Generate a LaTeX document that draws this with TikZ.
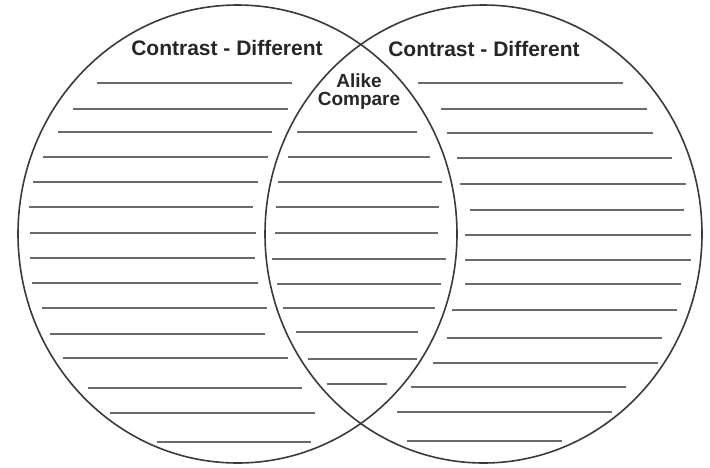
\documentclass[tikz,border=0pt]{standalone}
\usepackage{fontspec}
\setmainfont{Liberation Sans}
\definecolor{ringgray}{HTML}{3A3A3A}
\definecolor{linegray}{HTML}{6A6A6A}
\usepackage{tikz}
\usetikzlibrary{positioning}
\tikzset{
	ring/.style={draw=ringgray, line width=1.6pt}
}
\tikzset{
	writeline/.style={draw=linegray, line width=1.8pt}
}
\tikzset{
	headtext/.style={font=\fontsize{21}{22}\selectfont\bfseries\color{black!85}, inner sep=0pt}
}

\begin{document}
\begin{tikzpicture}[x=1pt, y=-1pt]

			\useasboundingbox (0,0) rectangle (710,467);

			\begin{scope}
				\coordinate (cL) at (237.5,234);
				\coordinate (cR) at (483.5,234);

				\draw[ring] (cL) ellipse [x radius=219.5, y radius=229];
				\draw[ring] (cR) ellipse [x radius=218.5, y radius=229];
			\end{scope}

			\node[headtext] (titleL) at (227,48) {Contrast - Different};
			\node[headtext] (titleR) at (484,49) {Contrast - Different};
			\node[headtext, font=\fontsize{19}{18}\selectfont\bfseries\color{black!85}, align=center] (alike) at (359,92) {Alike\\Compare};

			% left part
			\begin{scope}
				\draw[writeline] (97,83) -- (292,83);
				\draw[writeline] (73,109) -- (288,109);
				\draw[writeline] (58,132) -- (272,132);
				\draw[writeline] (43,157) -- (268,157);
				\draw[writeline] (33,182) -- (258,182);
				\draw[writeline] (29,207) -- (253,207);
				\draw[writeline] (30,233) -- (256,233);
				\draw[writeline] (30,258) -- (255,258);
				\draw[writeline] (32,283) -- (258,283);
				\draw[writeline] (42,308) -- (267,308);
				\draw[writeline] (50,334) -- (265,334);
				\draw[writeline] (63,358) -- (288,358);
				\draw[writeline] (88,388) -- (302,388);
				\draw[writeline] (110,413) -- (315,413);
				\draw[writeline] (157,442) -- (311,442);
			\end{scope}

			% middle part
			\begin{scope}
				\draw[writeline] (297,132) -- (417,132);
				\draw[writeline] (288,157) -- (430,157);
				\draw[writeline] (278,182) -- (442,182);
				\draw[writeline] (276,207) -- (439,207);
				\draw[writeline] (275,233) -- (438,233);
				\draw[writeline] (272,259) -- (446,259);
				\draw[writeline] (277,284) -- (441,284);
				\draw[writeline] (283,308) -- (435,308);
				\draw[writeline] (296,332) -- (418,332);
				\draw[writeline] (308,359) -- (417,359);
				\draw[writeline] (327,384) -- (387,384);
			\end{scope}

			% right part
			\begin{scope}
				\draw[writeline] (418,83) -- (623,83);
				\draw[writeline] (441,109) -- (647,109);
				\draw[writeline] (447,133) -- (653,133);
				\draw[writeline] (457,158) -- (672,158);
				\draw[writeline] (460,184) -- (686,184);
				\draw[writeline] (470,210) -- (684,210);
				\draw[writeline] (465,235) -- (691,235);
				\draw[writeline] (465,260) -- (691,260);
				\draw[writeline] (465,284) -- (681,284);
				\draw[writeline] (452,310) -- (677,310);
				\draw[writeline] (447,338) -- (662,338);
				\draw[writeline] (433,363) -- (658,363);
				\draw[writeline] (411,387) -- (626,387);
				\draw[writeline] (397,412) -- (612,412);
				\draw[writeline] (407,441) -- (562,441);
			\end{scope}

		\end{tikzpicture}
\end{document}
